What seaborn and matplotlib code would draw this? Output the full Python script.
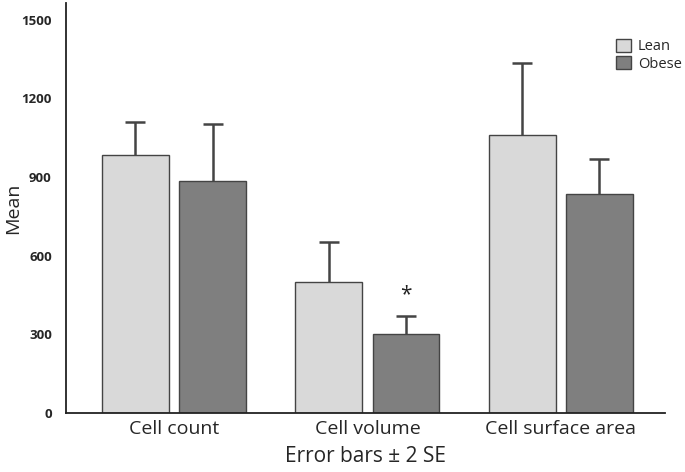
import pandas as pd
import numpy as np
import matplotlib
matplotlib.use("Agg")
import matplotlib.pyplot as plt
import seaborn as sns
from matplotlib.patches import Patch

# values
measures = ["Cell count", "Cell volume", "Cell surface area"]
groups = ["Lean", "Obese"]
lean_mean = [985, 500, 1062]
obese_mean = [886, 302, 836]
lean_err = [126, 153, 274]   # +2 SE (upper only)
obese_err = [217, 70, 134]
y_ticks = [0, 300, 600, 900, 1200, 1500]

colors = {"Lean": "#d9d9d9", "Obese": "#7f7f7f"}

df = pd.DataFrame({
    "measure": measures * 2,
    "group": ["Lean"] * 3 + ["Obese"] * 3,
    "mean": lean_mean + obese_mean,
    "err": lean_err + obese_err,
})

sns.set_style("white")
plt.rcParams["font.family"] = ["Open Sans", "DejaVu Sans"]

fig = plt.figure(figsize=(6.85, 4.72), dpi=100)
ax = fig.add_axes([0.096, 0.125, 0.875, 0.869])

sns.barplot(data=df, x="measure", y="mean", hue="group", order=measures,
            hue_order=groups, palette=colors, width=0.8, gap=0.135,
            edgecolor="#444444", linewidth=1.0, errorbar=None, legend=False, ax=ax)

# upper-only error bars (stem + top cap) at the bar centres seaborn placed
bars = ax.patches[:6]
cap = 0.052
for bar, (_, row) in zip(bars, df.iterrows()):
    xc = bar.get_x() + bar.get_width() / 2
    top = row["mean"] + row["err"]
    ax.vlines(xc, row["mean"], top, color="#444444", linewidth=1.8, zorder=3)
    ax.hlines(top, xc - cap, xc + cap, color="#444444", linewidth=1.8, zorder=3)

# significance marker on obese cell volume
b = bars[4]
ax.text(b.get_x() + b.get_width() / 2, obese_mean[1] + obese_err[1] + 78, "*",
        ha="center", va="center", fontsize=15, color="#222222")

ax.set_xlim(-0.56, 2.54)
ax.set_ylim(0, 1565)
ax.set_yticks(y_ticks)
ax.set_yticklabels([str(t) for t in y_ticks], fontsize=9.5, fontweight="bold")
ax.tick_params(axis="x", labelsize=14, length=0, pad=5)
ax.tick_params(axis="y", length=0, pad=10)
ax.set_ylabel("Mean", fontsize=14)
ax.yaxis.set_label_coords(-0.072, 0.5)
ax.set_xlabel("Error bars ± 2 SE", fontsize=15, labelpad=6)

sns.despine(ax=ax)
for s in ["left", "bottom"]:
    ax.spines[s].set_color("#222222")
    ax.spines[s].set_linewidth(1.3)

handles = [Patch(facecolor=colors[g], edgecolor="#444444", linewidth=1.0, label=g) for g in groups]
ax.legend(handles=handles, loc="upper right", bbox_to_anchor=(1.05, 0.945), frameon=False,
          fontsize=10.5, handlelength=1.0, handleheight=1.0, handletextpad=0.5,
          labelspacing=0.15)

fig.savefig("out.png", dpi=100)
